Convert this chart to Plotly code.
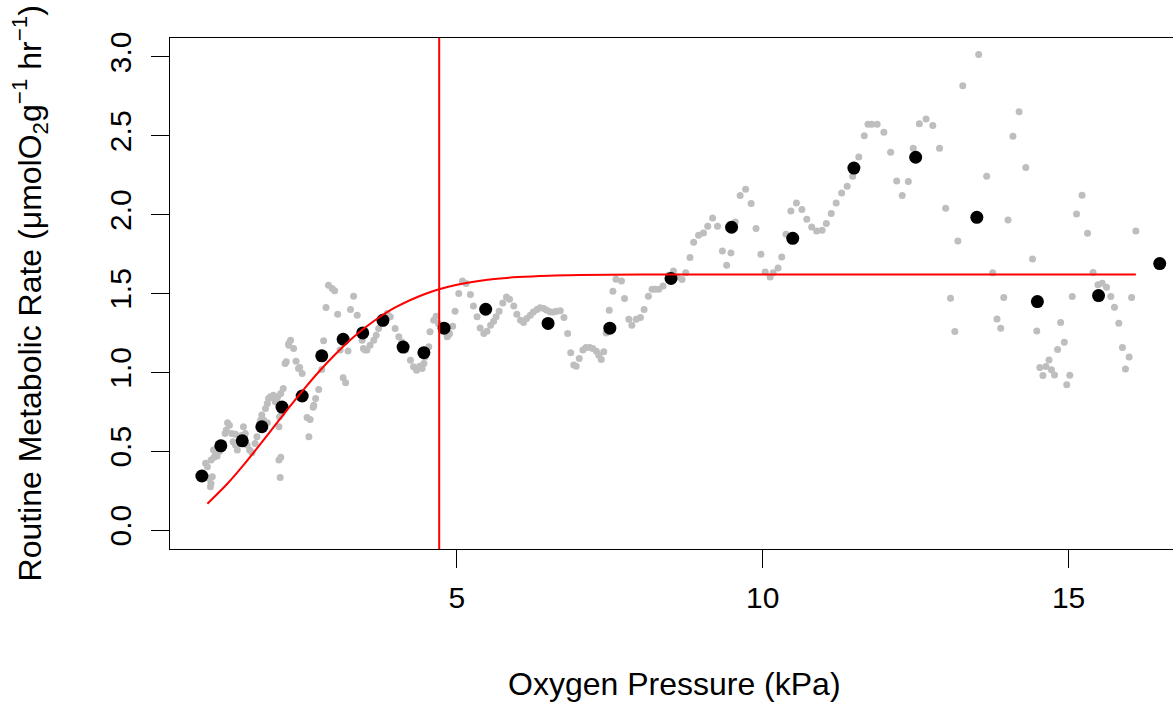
import plotly.graph_objects as go

# ---- data ----
gray_x = [0.89, 0.92, 0.94, 0.97, 0.98, 1.00, 0.98, 1.02, 1.03, 1.06, 1.08, 1.08, 1.12, 1.15, 1.18,
          1.21, 1.23, 1.25, 1.28, 1.32, 1.34, 1.38, 1.38, 1.41, 1.45, 1.48, 1.51, 1.51, 1.54, 1.57,
          1.61, 1.65, 1.70, 1.73, 1.79, 1.81, 1.84, 1.87, 1.90, 1.90, 1.92, 1.95, 1.96, 2.00, 2.03,
          2.05, 2.07, 2.09, 2.09, 2.10, 2.11, 2.11, 2.12, 2.12, 2.14, 2.16, 2.19, 2.21, 2.25, 2.28,
          2.25, 2.33, 2.37, 2.41, 2.43, 2.47, 2.55, 2.58, 2.60, 2.65, 2.66, 2.69, 2.74, 2.79, 2.82,
          2.86, 2.90, 2.96, 3.00, 3.05, 3.09, 3.14, 3.18, 3.22, 3.26, 3.31, 3.37, 3.45, 3.47, 3.50,
          3.53, 3.58, 3.64, 3.68, 3.72, 3.77, 3.82, 3.86, 3.91, 3.99, 4.05, 4.10, 4.16, 4.24, 4.29,
          4.34, 4.39, 4.43, 4.46, 4.48, 4.54, 4.56, 4.62, 4.66, 4.70, 4.78, 4.84, 4.86, 4.88, 4.93,
          4.97, 5.03, 5.09, 5.15, 5.22, 5.27, 5.33, 5.38, 5.44, 5.49, 5.55, 5.60, 5.64, 5.69, 5.75,
          5.81, 5.86, 5.93, 5.98, 6.04, 6.09, 6.14, 6.20, 6.25, 6.31, 6.36, 6.42, 6.47, 6.53, 6.58,
          6.63, 6.69, 6.75, 6.81, 6.86, 6.91, 6.95, 7.00, 7.06, 7.11, 7.17, 7.22, 7.28, 7.32, 7.36,
          7.40, 7.44, 7.49, 7.55, 7.60, 7.69, 7.74, 7.81, 7.86, 7.93, 8.00, 8.06, 8.13, 8.19, 8.24,
          8.30, 8.37, 8.46, 8.54, 8.60, 8.68, 8.74, 8.81, 8.87, 8.95, 9.03, 9.10, 9.18, 9.26, 9.34,
          9.41, 9.48, 9.55, 9.63, 9.72, 9.81, 9.89, 9.97, 10.04, 10.12, 10.17, 10.25, 10.31, 10.38, 10.46,
          10.55, 10.64, 10.72, 10.80, 10.88, 10.97, 11.04, 11.12, 11.20, 11.29, 11.38, 11.47, 11.57, 11.66, 11.72,
          11.78, 11.87, 11.98, 12.09, 12.19, 12.28, 12.38, 12.46, 12.56, 12.67, 12.78, 12.89, 12.99, 13.07, 13.14,
          13.19, 13.27, 13.53, 13.66, 13.76, 13.83, 13.89, 13.94, 14.01, 14.09, 14.19, 14.30, 14.41, 14.48, 14.53,
          14.58, 14.63, 14.68, 14.72, 14.77, 14.82, 14.87, 14.93, 14.97, 15.02, 15.06, 15.13, 15.22, 15.31, 15.40,
          15.48, 15.55, 15.62, 15.69, 15.75, 15.82, 15.88, 15.93, 15.99, 16.03, 16.10]
gray_y = [0.423, 0.401, 0.328, 0.274, 0.296, 0.338, 0.444, 0.507, 0.461, 0.480, 0.469, 0.518, 0.500, 0.520, 0.550,
          0.613, 0.634, 0.680, 0.665, 0.613, 0.560, 0.608, 0.539, 0.507, 0.570, 0.600, 0.655, 0.560, 0.613, 0.539,
          0.507, 0.490, 0.549, 0.591, 0.697, 0.729, 0.697, 0.771, 0.803, 0.680, 0.835, 0.845, 0.841, 0.855, 0.813,
          0.824, 0.845, 0.655, 0.444, 0.718, 0.334, 0.781, 0.461, 0.866, 0.739, 0.898, 1.056, 1.067, 1.183, 1.204,
          1.172, 1.151, 1.071, 1.025, 1.031, 0.993, 0.714, 0.591, 0.701, 0.778, 0.792, 0.835, 0.892, 1.018, 1.200,
          1.411, 1.553, 1.532, 1.517, 1.369, 1.141, 0.966, 0.934, 1.136, 1.399, 1.483, 1.362, 1.204, 1.151, 1.141,
          1.141, 1.172, 1.204, 1.236, 1.278, 1.310, 1.350, 1.373, 1.352, 1.278, 1.225, 1.193, 1.141, 1.077, 1.035,
          1.014, 1.039, 1.025, 1.056, 1.098, 1.162, 1.257, 1.331, 1.356, 1.310, 1.272, 1.225, 1.236, 1.246, 1.293,
          1.388, 1.500, 1.580, 1.563, 1.494, 1.421, 1.352, 1.282, 1.246, 1.261, 1.299, 1.324, 1.352, 1.388, 1.440,
          1.478, 1.464, 1.421, 1.369, 1.331, 1.316, 1.342, 1.362, 1.383, 1.399, 1.409, 1.405, 1.394, 1.383, 1.383,
          1.388, 1.390, 1.348, 1.246, 1.124, 1.046, 1.039, 1.088, 1.141, 1.158, 1.158, 1.151, 1.134, 1.109, 1.082,
          1.130, 1.250, 1.394, 1.515, 1.591, 1.580, 1.468, 1.337, 1.299, 1.337, 1.348, 1.399, 1.483, 1.527, 1.527,
          1.527, 1.548, 1.616, 1.643, 1.605, 1.589, 1.631, 1.728, 1.825, 1.869, 1.884, 1.926, 1.979, 1.926, 1.770,
          1.679, 1.757, 1.954, 2.121, 2.161, 2.070, 1.912, 1.749, 1.637, 1.605, 1.631, 1.662, 1.732, 1.876, 2.023,
          2.074, 2.032, 1.971, 1.922, 1.897, 1.901, 1.944, 2.007, 2.074, 2.138, 2.180, 2.243, 2.366, 2.500, 2.573,
          2.573, 2.573, 2.522, 2.395, 2.214, 2.121, 2.210, 2.421, 2.577, 2.607, 2.565, 2.421, 2.040, 1.470, 1.259,
          1.833, 2.818, 3.016, 2.243, 1.631, 1.339, 1.280, 1.475, 1.966, 2.497, 2.653, 2.299, 1.719, 1.263, 1.031,
          0.980, 1.037, 1.079, 1.016, 0.984, 1.145, 1.316, 1.191, 0.921, 0.982, 1.481, 2.004, 2.123, 1.882, 1.633,
          1.555, 1.565, 1.540, 1.481, 1.413, 1.312, 1.158, 1.022, 1.098, 1.475, 1.897]

bin_x = [0.83, 1.14, 1.49, 1.81, 2.14, 2.47, 2.79, 3.14, 3.46, 3.79, 4.12, 4.46, 4.79,
         5.47, 6.49, 7.50, 8.50, 9.49, 10.49, 11.49, 12.50, 13.50, 14.49, 15.49, 16.49]
bin_y = [0.343, 0.534, 0.566, 0.655, 0.780, 0.850, 1.105, 1.210, 1.250, 1.330, 1.160, 1.125, 1.280,
         1.400, 1.310, 1.280, 1.595, 1.920, 1.850, 2.295, 2.364, 1.983, 1.449, 1.487, 1.690]

fit_x = [0.92, 1.25, 1.5, 1.75, 2.0, 2.25, 2.5, 2.75, 3.0, 3.25, 3.5, 3.75, 4.0, 4.5, 5.0,
         5.5, 6.0, 6.5, 7.0, 8.0, 10.0, 12.0, 14.0, 16.1]
fit_y = [0.167, 0.295, 0.407, 0.527, 0.651, 0.775, 0.894, 1.007, 1.110, 1.203, 1.284, 1.354, 1.413, 1.500, 1.555,
         1.587, 1.604, 1.613, 1.617, 1.620, 1.620, 1.620, 1.620, 1.620]

pcrit = 4.71

x_ticks = [5, 10, 15]
y_ticks = [0.0, 0.5, 1.0, 1.5, 2.0, 2.5, 3.0]
y_tick_text = ["0.0", "0.5", "1.0", "1.5", "2.0", "2.5", "3.0"]

FONT = "Liberation Sans, Arial, Helvetica, sans-serif"

fig = go.Figure()
fig.add_trace(go.Scatter(x=gray_x, y=gray_y, mode="markers",
                         marker=dict(color="#BEBEBE", size=7, line=dict(width=0))))
fig.add_trace(go.Scatter(x=bin_x, y=bin_y, mode="markers",
                         marker=dict(color="black", size=13, line=dict(width=0))))
fig.add_trace(go.Scatter(x=fit_x, y=fit_y, mode="lines", line_shape="spline",
                         line=dict(color="#FF0000", width=2)))
fig.add_shape(type="line", xref="x", yref="paper", x0=pcrit, x1=pcrit, y0=0, y1=1,
              line=dict(color="#FF0000", width=2))

fig.update_layout(
    width=1173, height=702,
    margin=dict(l=170, r=0, t=38, b=153),
    plot_bgcolor="white", paper_bgcolor="white",
    showlegend=False,
    font=dict(family=FONT, color="black"),
    xaxis=dict(range=[0.309, 16.707], tickvals=x_ticks, ticks="outside", ticklen=18,
               tickwidth=1, tickcolor="black", showline=True, linecolor="black", linewidth=1,
               mirror=True, showgrid=False, zeroline=False,
               tickfont=dict(family=FONT, size=30, color="black"), ticklabelstandoff=4),
    yaxis=dict(range=[-0.12, 3.12], tickvals=y_ticks, ticktext=y_tick_text, tickangle=-90,
               ticks="outside", ticklen=18, tickwidth=1, tickcolor="black",
               showline=True, linecolor="black", linewidth=1, mirror=False,
               showgrid=False, zeroline=False,
               tickfont=dict(family=FONT, size=30, color="black"), ticklabelstandoff=8),
)

fig.add_annotation(text="Oxygen Pressure (kPa)", xref="paper", yref="paper",
                   x=0.5025, y=-0.264, xanchor="center", yanchor="middle", showarrow=False,
                   borderpad=0, font=dict(family=FONT, size=32, color="black"))
fig.add_annotation(text="Routine Metabolic Rate (\u03bcmolO<sub>2</sub>g<sup>\u22121</sup> hr<sup>\u22121</sup>)",
                   xref="paper", yref="paper", x=-0.1396, y=0.5, xanchor="center", yanchor="middle",
                   textangle=-90, showarrow=False, borderpad=0,
                   font=dict(family=FONT, size=32, color="black"))

fig.write_html("out.html", config={"displayModeBar": False},
               post_script="document.body.style.margin='0px';")
